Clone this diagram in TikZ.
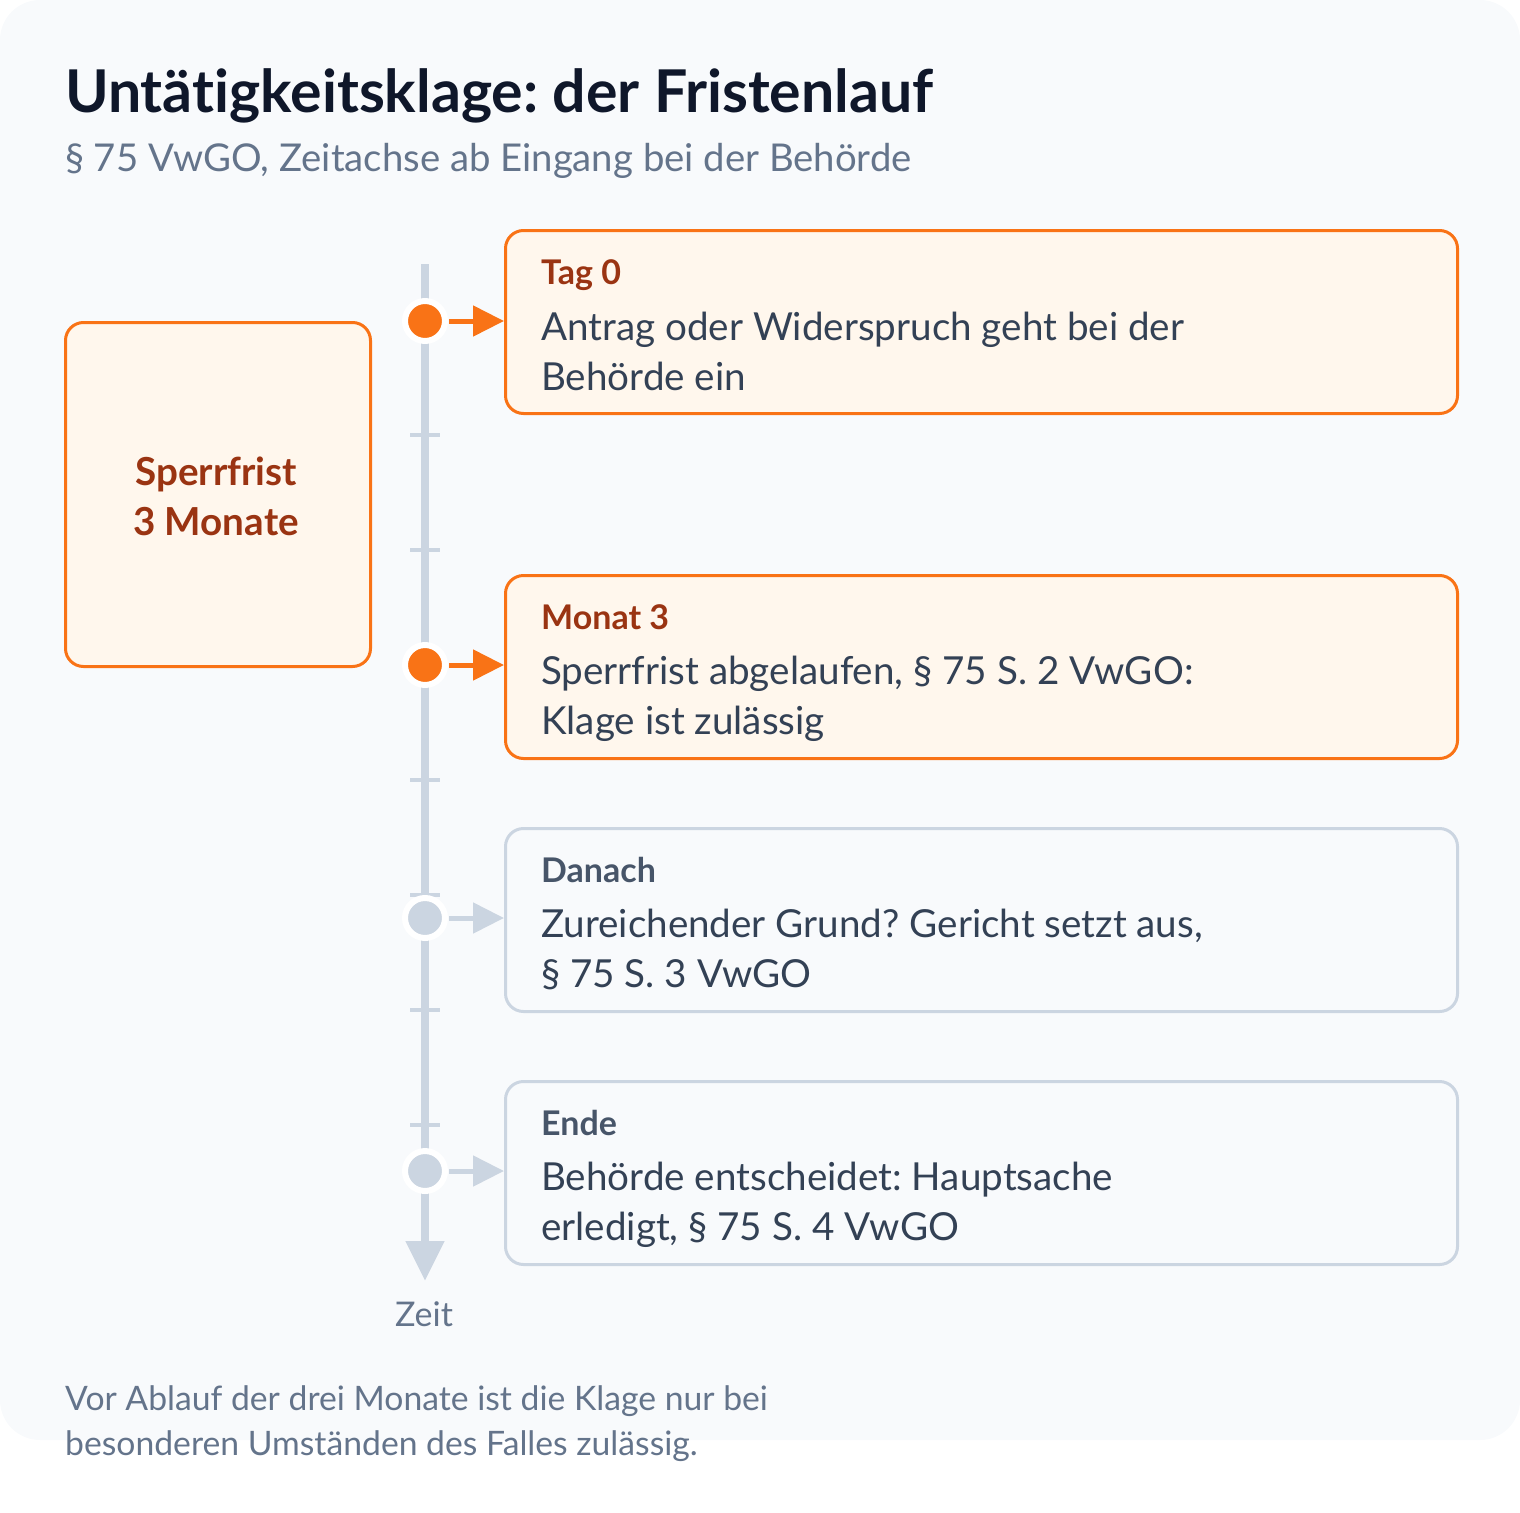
\documentclass[tikz,border=0pt]{standalone}
\usepackage{fontspec}
\setmainfont{Lato}[Ligatures={NoCommon}]
\usetikzlibrary{arrows.meta}
\definecolor{bgc}{HTML}{F8FAFC}
\definecolor{ink}{HTML}{0F172A}
\definecolor{muted}{HTML}{64748B}
\definecolor{body}{HTML}{334155}
\definecolor{orng}{HTML}{F97316}
\definecolor{orfill}{HTML}{FFF7ED}
\definecolor{ordark}{HTML}{9A3412}
\definecolor{axis}{HTML}{CBD5E1}
\definecolor{grayhead}{HTML}{475569}
\frenchspacing
\begin{document}
\begin{tikzpicture}[x=1pt,y=-1pt,
  hot/.style={draw=orng, line width=3pt, fill=orfill, rounded corners=18pt, minimum width=952pt, minimum height=183pt, anchor=north west, inner sep=0pt},
  cold/.style={draw=axis, line width=3pt, fill=bgc, rounded corners=18pt, minimum width=952pt, minimum height=183pt, anchor=north west, inner sep=0pt},
  headtxt/.style={anchor=base west, inner sep=0pt, font=\fontsize{34}{40}\selectfont\bfseries},
  bodytxt/.style={anchor=base west, inner sep=0pt, text=body, font=\fontsize{38.6}{46}\selectfont},
  hotdot/.style={circle, fill=orng, draw=white, line width=6pt, minimum size=40pt, inner sep=0pt},
  colddot/.style={circle, fill=axis, draw=white, line width=6pt, minimum size=40pt, inner sep=0pt},
  hotarrow/.style={draw=orng, line width=5pt, -{Triangle[length=31pt,width=30pt]}, shorten <=1pt},
  coldarrow/.style={draw=axis, line width=5pt, -{Triangle[length=31pt,width=30pt]}, shorten <=1pt},
  tick/.style={draw=axis, line width=4pt}
]
\useasboundingbox (0,0) rectangle (1520,1512);
\fill[bgc, rounded corners=40pt] (0,0) rectangle (1520,1440);

% title
\node[anchor=base west, inner sep=0pt, text=ink, font=\fontsize{59}{66}\selectfont\bfseries] (title) at (65,112) {Untätigkeitsklage: der Fristenlauf};
\node[anchor=base west, inner sep=0pt, text=muted, font=\fontsize{38.3}{44}\selectfont] (subtitle) at (65,171) {§ 75 VwGO, Zeitachse ab Eingang bei der Behörde};

% axis
\coordinate (axtop) at (425,264);
\coordinate (axend) at (425,1281);
\draw[draw=axis, line width=8pt, -{Triangle[length=40pt,width=37pt]}] (axtop) -- (axend);
\foreach \y in {435,550,780,895,1010,1125}{
  \draw[tick] (410,\y) -- (440,\y);
}
\node[anchor=base, inner sep=0pt, text=muted, font=\fontsize{34}{40}\selectfont] (zeit) at (424,1326) {Zeit};

% Sperrfrist box
\node[draw=orng, line width=3pt, fill=orfill, rounded corners=18pt, minimum width=305pt, minimum height=344pt, anchor=north west, inner sep=0pt] (sperr) at (64,321) {};
\node[align=center, text=ordark, font=\fontsize{38.6}{50}\selectfont\bfseries] (sperrtxt) at (216,496) {Sperrfrist\\3 Monate};

% boxes
\node[hot] (b1) at (504,229) {};
\node[hot] (b2) at (504,574) {};
\node[cold] (b3) at (504,827) {};
\node[cold] (b4) at (504,1080) {};

% dots
\node[hotdot] (d1) at (425,321) {};
\node[hotdot] (d2) at (425,665) {};
\node[colddot] (d3) at (425,918) {};
\node[colddot] (d4) at (425,1171) {};

\draw[hotarrow] (d1.east) ++(0,0) -- (b1.west |- d1);
\draw[hotarrow] (d2.east) ++(0,0) -- (b2.west |- d2);
\draw[coldarrow] (d3.east) ++(0,0) -- (b3.west |- d3);
\draw[coldarrow] (d4.east) ++(0,0) -- (b4.west |- d4);

% texts
\node[headtxt, text=ordark] (h1) at (541,284) {Tag 0};
\node[bodytxt] (t1a) at (541,340) {Antrag oder Widerspruch geht bei der};
\node[bodytxt] (t1b) at (541,390) {Behörde ein};

\node[headtxt, text=ordark] (h2) at (541,629) {Monat 3};
\node[bodytxt] (t2a) at (541,684) {Sperrfrist abgelaufen, § 75 S. 2 VwGO:};
\node[bodytxt] (t2b) at (541,734) {Klage ist zulässig};

\node[headtxt, text=grayhead] (h3) at (541,882) {Danach};
\node[bodytxt] (t3a) at (541,937) {Zureichender Grund? Gericht setzt aus,};
\node[bodytxt] (t3b) at (541,987) {§ 75 S. 3 VwGO};

\node[headtxt, text=grayhead] (h4) at (541,1135) {Ende};
\node[bodytxt] (t4a) at (541,1190) {Behörde entscheidet: Hauptsache};
\node[bodytxt] (t4b) at (541,1240) {erledigt, § 75 S. 4 VwGO};

% footer
\node[anchor=base west, inner sep=0pt, text=muted, font=\fontsize{33.7}{40}\selectfont] (foot1) at (65,1410) {Vor Ablauf der drei Monate ist die Klage nur bei};
\node[anchor=base west, inner sep=0pt, text=muted, font=\fontsize{33.7}{40}\selectfont] (foot2) at (65,1455) {besonderen Umständen des Falles zulässig.};
\end{tikzpicture}
\end{document}
